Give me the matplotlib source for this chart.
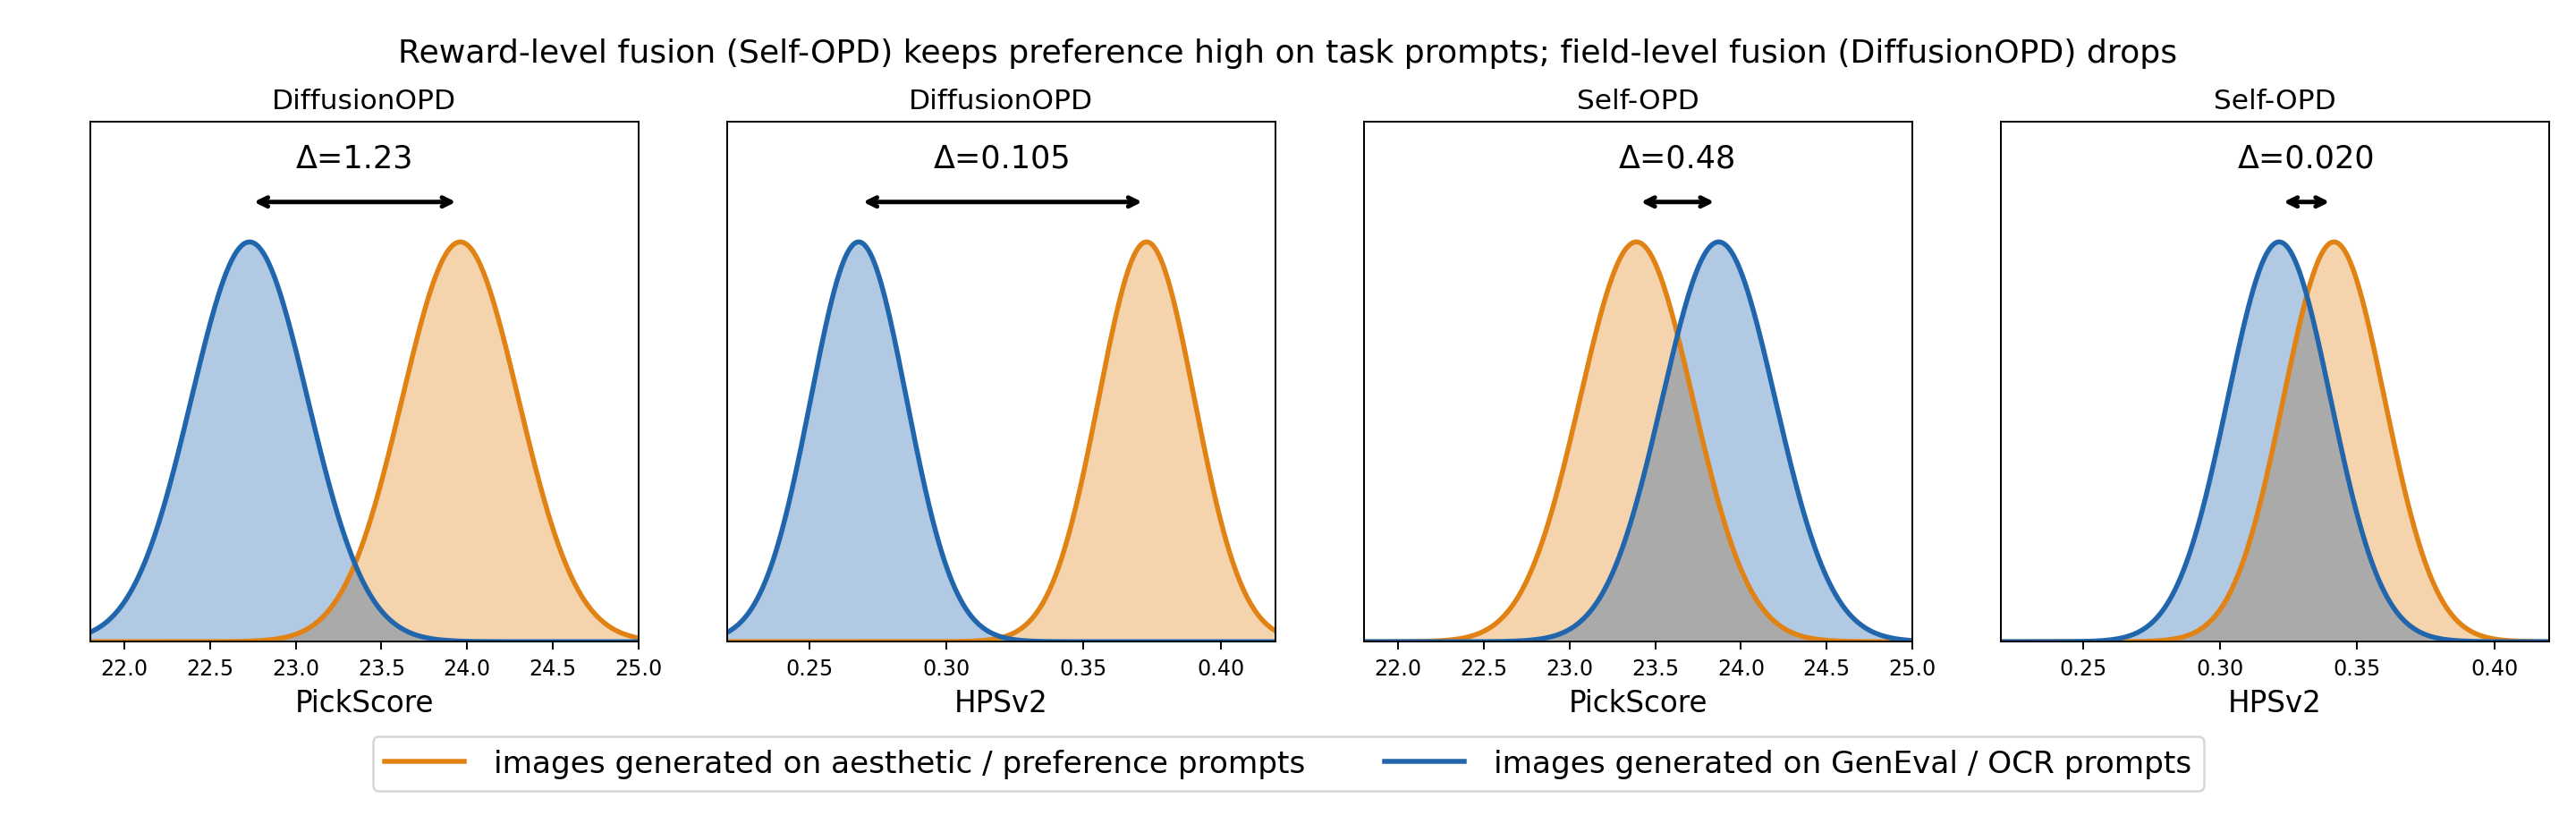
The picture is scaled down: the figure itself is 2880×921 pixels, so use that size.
import numpy as np
import matplotlib
matplotlib.use("Agg")
import matplotlib.pyplot as plt

plt.rcParams['font.family'] = ['DejaVu Sans']

# panel setup
panel_titles = ['DiffusionOPD', 'DiffusionOPD', 'Self-OPD', 'Self-OPD']
metrics = ['PickScore', 'HPSv2', 'PickScore', 'HPSv2']
delta_labels = ['Δ=1.23', 'Δ=0.105', 'Δ=0.48', 'Δ=0.020']

# distribution centres / spreads
aesthetic_mean = [23.96, 0.373, 23.39, 0.3415]
aesthetic_std = [0.34, 0.0175, 0.33, 0.0185]
geneval_mean = [22.73, 0.268, 23.87, 0.3215]
geneval_std = [0.34, 0.0175, 0.33, 0.0188]

xlims = [(21.8, 25.0), (0.22, 0.42), (21.8, 25.0), (0.22, 0.42)]
pick_ticks = [22.0, 22.5, 23.0, 23.5, 24.0, 24.5, 25.0]
hps_ticks = [0.25, 0.30, 0.35, 0.40]

legend_labels = ['images generated on aesthetic / preference prompts',
                 'images generated on GenEval / OCR prompts']

ORANGE = '#e08214'
BLUE = '#2166ac'


def bell(x, mu, sd):
    y = np.exp(-0.5 * ((x - mu) / sd) ** 2)
    return y / y.max()


fig, axes = plt.subplots(1, 4, figsize=(16, 922 / 180), dpi=180)
fig.subplots_adjust(left=0.035, right=0.9896, bottom=0.221, top=0.851, wspace=0.1615)

for i, ax in enumerate(axes):
    lo, hi = xlims[i]
    x = np.linspace(lo, hi, 600)
    ya = bell(x, aesthetic_mean[i], aesthetic_std[i])
    yg = bell(x, geneval_mean[i], geneval_std[i])

    ax.fill_between(x, 0, ya, color=ORANGE, alpha=0.35, lw=0)
    ax.fill_between(x, 0, yg, color=BLUE, alpha=0.35, lw=0)
    ax.fill_between(x, 0, np.minimum(ya, yg), color='#aaaaaa', lw=0)
    ax.plot(x, ya, color=ORANGE, lw=2.2, label=legend_labels[0])
    ax.plot(x, yg, color=BLUE, lw=2.2, label=legend_labels[1])

    m1, m2 = geneval_mean[i], aesthetic_mean[i]
    ax.annotate('', xy=(m2, 1.1), xytext=(m1, 1.1),
                arrowprops=dict(arrowstyle='<->', color='black', lw=2))
    ax.text((m1 + m2) / 2, 1.21, delta_labels[i], ha='center', va='center', fontsize=14)

    ax.set_xlim(lo, hi)
    ax.set_ylim(0, 1.3)
    ax.set_yticks([])
    ax.set_xticks(pick_ticks if metrics[i] == 'PickScore' else hps_ticks)
    ax.tick_params(axis='x', labelsize=9.5)
    ax.set_xlabel(metrics[i], fontsize=13)
    ax.set_title(panel_titles[i], fontsize=12.5)

fig.suptitle('Reward-level fusion (Self-OPD) keeps preference high on task prompts; '
             'field-level fusion (DiffusionOPD) drops', fontsize=14.5, y=0.935, va='center')

handles, labels = axes[0].get_legend_handles_labels()
fig.legend(handles, labels, loc='lower center', bbox_to_anchor=(0.5, 0.022), ncol=2,
           fontsize=13.7, handlelength=2.6, handletextpad=0.95, columnspacing=2.6)

plt.savefig('out.png', dpi=180)
plt.close()
